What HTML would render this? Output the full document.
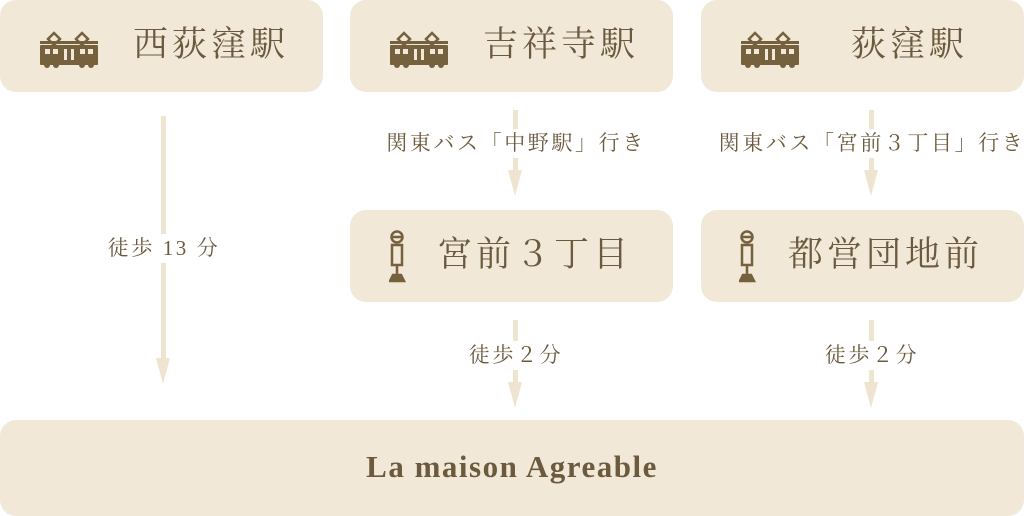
<!DOCTYPE html>
<html><head><meta charset="utf-8"><style>
body{margin:0;width:1027px;height:516px;background:#fff;position:relative;overflow:hidden;font-family:"Liberation Serif","Noto Serif CJK SC",serif;color:#6b5a3e}
.b{position:absolute;background:#f2e8d7;border-radius:16px}
.t{position:absolute;font-size:35px;letter-spacing:4px;white-space:nowrap;line-height:1}
.l{position:absolute;font-size:21px;letter-spacing:2.6px;background:#fff;white-space:nowrap;line-height:1;padding:4px 0;transform:translateX(-50%)}
.ln{position:absolute;width:5px;background:#efe4cf}
.ah{position:absolute;width:0;height:0;border-left:7px solid transparent;border-right:7px solid transparent;border-top:26px solid #efe4cf}
svg{position:absolute}
</style></head><body>
<div class="b" style="left:0;top:0;width:323px;height:92px"></div>
<div class="b" style="left:350px;top:0;width:323px;height:92px"></div>
<div class="b" style="left:701px;top:0;width:323px;height:92px"></div>
<div class="b" style="left:350px;top:210px;width:323px;height:92px"></div>
<div class="b" style="left:701px;top:210px;width:323px;height:92px"></div>
<div class="b" style="left:0;top:420px;width:1024px;height:96px"></div>

<svg width="0" height="0"><defs><g id="tr" fill="#76613f"><path d="M8 12 L14 6 L20 12 L14 18Z M36 12 L42 6 L48 12 L42 18Z" fill="none" stroke="#76613f" stroke-width="2.5"/><rect x="0" y="14" width="58" height="3"/><rect x="0" y="18" width="58" height="20" rx="1"/><circle cx="7" cy="38" r="3"/><circle cx="16" cy="38" r="3"/><circle cx="42" cy="38" r="3"/><circle cx="51" cy="38" r="3"/><g fill="#f2e8d7"><rect x="5" y="22" width="5" height="5"/><rect x="13" y="22" width="5" height="5"/><rect x="40" y="22" width="5" height="5"/><rect x="48" y="22" width="5" height="5"/><rect x="24" y="22" width="3" height="11"/><rect x="31" y="22" width="3" height="11"/></g></g>
<g id="bs" fill="none" stroke="#76613f" stroke-width="2.5"><circle cx="8" cy="7" r="5.5"/><line x1="2" y1="7" x2="14" y2="7"/><rect x="3" y="15" width="10" height="20"/><line x1="8" y1="35" x2="8" y2="46"/><path d="M4 45 L12 45 L15 51 L1 51Z" fill="#76613f"/></g></defs></svg>

<svg style="left:40px;top:27px" width="60" height="44"><use href="#tr"/></svg>
<svg style="left:390px;top:27px" width="60" height="44"><use href="#tr"/></svg>
<svg style="left:741px;top:27px" width="60" height="44"><use href="#tr"/></svg>
<svg style="left:389px;top:230px" width="18" height="54"><use href="#bs"/></svg>
<svg style="left:739px;top:230px" width="18" height="54"><use href="#bs"/></svg>

<div class="t" style="left:133px;top:27px">西荻窪駅</div>
<div class="t" style="left:483px;top:27px">吉祥寺駅</div>
<div class="t" style="left:851px;top:27px">荻窪駅</div>
<div class="t" style="left:437px;top:237px">宮前３丁目</div>
<div class="t" style="left:788px;top:237px">都営団地前</div>
<div style="position:absolute;left:0;width:1024px;top:449px;text-align:center;font-size:31px;font-weight:bold;letter-spacing:1.5px">La maison Agreable</div>

<div class="ln" style="left:161px;top:116px;height:245px"></div><div class="ah" style="left:156px;top:358px"></div>
<div class="ln" style="left:513px;top:110px;height:65px"></div><div class="ah" style="left:508px;top:170px"></div>
<div class="ln" style="left:869px;top:110px;height:65px"></div><div class="ah" style="left:864px;top:170px"></div>
<div class="ln" style="left:513px;top:320px;height:65px"></div><div class="ah" style="left:508px;top:382px"></div>
<div class="ln" style="left:869px;top:320px;height:65px"></div><div class="ah" style="left:864px;top:382px"></div>

<div class="l" style="left:164px;top:234px">徒歩 13 分</div>
<div class="l" style="left:516px;top:129px">関東バス「中野駅」行き</div>
<div class="l" style="left:872px;top:129px">関東バス「宮前３丁目」行き</div>
<div class="l" style="left:516px;top:341px">徒歩２分</div>
<div class="l" style="left:872px;top:341px">徒歩２分</div>
</body></html>
